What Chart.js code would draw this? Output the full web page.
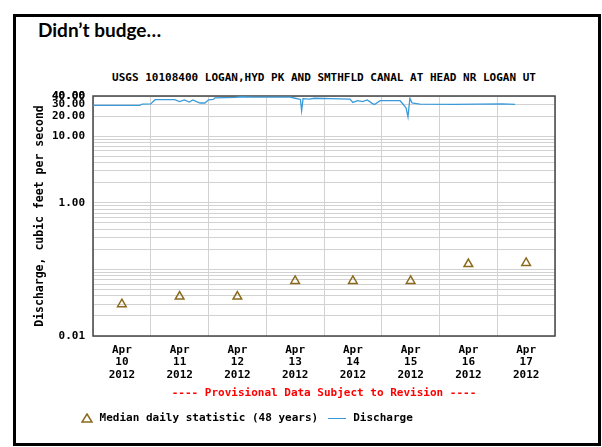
<!DOCTYPE html>
<html>
<head>
<meta charset="utf-8">
<script src="https://cdn.jsdelivr.net/npm/chart.js@4/dist/chart.umd.min.js"></script>
<style>
  html, body { margin: 0; padding: 0; background: #fff; }
  #slide { position: relative; width: 602px; height: 447px; overflow: hidden; background: #fff; }
  #frame { position: absolute; left: 13px; top: 14px; width: 588px; height: 432px; box-sizing: border-box; border: 3px solid #000; }
  #heading { position: absolute; left: 38px; top: 18px; font: bold 19px Lato, "Open Sans", sans-serif; color: #000; }
  .mono { font-family: "DejaVu Sans Mono", monospace; font-weight: bold; font-size: 11px; }
  #ctitle { position: absolute; left: 93px; width: 462px; top: 71px; text-align: center; color: #000; white-space: nowrap; }
  #prov { position: absolute; left: 93px; width: 462px; top: 386px; text-align: center; color: #ff0000; white-space: nowrap; }
  #legend { position: absolute; left: 81px; top: 411px; color: #000; white-space: nowrap; }
  #legend svg, #legend .ln { vertical-align: middle; }
  #legend .ln { display: inline-block; width: 18px; height: 0; border-top: 1.5px solid #3a9ad9; margin: 0 7px 0 10px; }
  #chart { position: absolute; left: 0; top: 0; }
</style>
</head>
<body>
<div id="slide">
  <div id="frame"></div>
  <div id="heading">Didn’t budge…</div>
  <div id="ctitle" class="mono">USGS 10108400 LOGAN,HYD PK AND SMTHFLD CANAL AT HEAD NR LOGAN UT</div>
  <canvas id="chart" width="602" height="447"></canvas>
  <div id="prov" class="mono">---- Provisional Data Subject to Revision ----</div>
  <div id="legend" class="mono"><svg width="12" height="10"><polygon points="6,1 11,9 1,9" fill="none" stroke="#8b6a1e" stroke-width="1.5"/></svg> Median daily statistic (48 years)<span class="ln"></span>Discharge</div>
</div>
<script>
// dias do eixo x (rótulos ao meio-dia)
var dayLabels   = ["10", "11", "12", "13", "14", "15", "16", "17"];
var monthLabel  = "Apr";
var yearLabel   = "2012";

// mediana diária (horas desde 10/abr 00:00)
var medianHours  = [12, 36, 60, 84, 108, 132, 156, 180];
var medianValues = [0.030, 0.039, 0.039, 0.067, 0.067, 0.067, 0.12, 0.125];

// vazão medida (horas desde 10/abr 00:00)
var dischargeHours  = [0, 19.5, 20.5, 24, 25.8, 34, 36, 38, 40, 41.5, 43, 44.5, 46.5, 48, 50, 50.7, 59, 62, 66, 82, 84,
                       86.2, 86.7, 87.3, 90, 92, 98.5, 106.8, 108, 110, 112, 114, 116, 117, 119.3, 127.6, 128.8,
                       130.1, 130.9, 131.7, 132.6, 133.8, 135.9, 150, 160, 170, 175.4];
var dischargeValues = [29.0, 29.0, 30.3, 30.4, 35.2, 35.2, 33.0, 35.0, 32.5, 35.0, 33.0, 31.4, 31.4, 35.0, 35.5, 37.5, 38.2, 39.0, 38.5, 38.5, 37.0,
                       35.5, 24.0, 36.5, 36.0, 37.0, 36.5, 36.0, 32.0, 34.0, 33.0, 35.0, 31.0, 29.7, 34.0, 34.0, 30.3,
                       26.5, 19.4, 37.0, 31.4, 31.0, 30.3, 30.0, 30.3, 30.5, 30.0];

// rótulos do eixo y
var yLabelValues = [0.01, 1, 10, 20, 30, 40];

var MONO = "'DejaVu Sans Mono', monospace";
var GRID = "#d2d2d2";

function pts(xs, ys) {
  return xs.map(function(x, i) { return { x: x, y: ys[i] }; });
}

// caixa em volta da área do gráfico
var boxPlugin = {
  id: "box",
  beforeDatasetsDraw: function(chart) {
    var a = chart.chartArea, ctx = chart.ctx;
    ctx.save();
    ctx.strokeStyle = "#444";
    ctx.lineWidth = 1.5;
    ctx.strokeRect(a.left, a.top, a.right - a.left, a.bottom - a.top);
    ctx.restore();
  }
};

new Chart(document.getElementById("chart"), {
  type: "line",
  data: {
    datasets: [
      {
        label: "Discharge",
        data: pts(dischargeHours, dischargeValues),
        borderColor: "#3a9ad9",
        borderWidth: 1.3,
        pointRadius: 0,
        tension: 0,
        fill: false,
        order: 1
      },
      {
        label: "Median daily statistic (48 years)",
        data: pts(medianHours, medianValues),
        showLine: false,
        pointStyle: "triangle",
        pointRadius: 5,
        pointBorderWidth: 1.5,
        pointBorderColor: "#8b6a1e",
        pointBackgroundColor: "rgba(0,0,0,0)",
        order: 0
      }
    ]
  },
  options: {
    responsive: false,
    animation: false,
    layout: { padding: { left: 0, top: 96, right: 47, bottom: 63 } },
    plugins: { legend: { display: false }, title: { display: false }, tooltip: { enabled: false } },
    scales: {
      x: {
        type: "linear", min: 0, max: 192,
        afterBuildTicks: function(s) {
          var t = [];
          for (var h = 0; h <= 192; h += 12) t.push({ value: h });
          s.ticks = t;
        },
        afterFit: function(s) { s.height = 48; },
        border: { display: false },
        grid: {
          drawTicks: false,
          lineWidth: 1,
          color: function(c) { return c.tick && c.tick.value % 24 === 0 ? GRID : "rgba(0,0,0,0)"; }
        },
        ticks: {
          autoSkip: false, maxRotation: 0, padding: 8, color: "#000",
          font: { family: MONO, size: 11, weight: "bold", lineHeight: 1.12 },
          callback: function(v) {
            if (v % 24 !== 12) return "";
            return [monthLabel, dayLabels[(v - 12) / 24], yearLabel];
          }
        }
      },
      y: {
        type: "logarithmic", min: 0.01, max: 40,
        afterBuildTicks: function(s) {
          var t = [];
          [0.01, 0.1, 1, 10].forEach(function(d) {
            for (var k = 1; k <= 9; k++) {
              var v = Math.round(k * d * 1000) / 1000;
              if (v <= 40) t.push({ value: v });
            }
          });
          t.push({ value: 40 });
          s.ticks = t;
        },
        afterFit: function(s) { s.width = 93; },
        border: { display: false },
        grid: { drawTicks: false, color: GRID, lineWidth: 1 },
        ticks: {
          autoSkip: false, padding: 8, color: "#000",
          font: { family: MONO, size: 11, weight: "bold" },
          callback: function(v) {
            for (var i = 0; i < yLabelValues.length; i++) {
              if (Math.abs(v - yLabelValues[i]) < 1e-9) return v.toFixed(2);
            }
            return "";
          }
        },
        title: {
          display: true, text: "Discharge, cubic feet per second", color: "#000",
          font: { family: MONO, size: 11.5, weight: "bold" },
          padding: { top: 33, bottom: 0 }
        }
      }
    }
  },
  plugins: [boxPlugin]
});
</script>
</body>
</html>
